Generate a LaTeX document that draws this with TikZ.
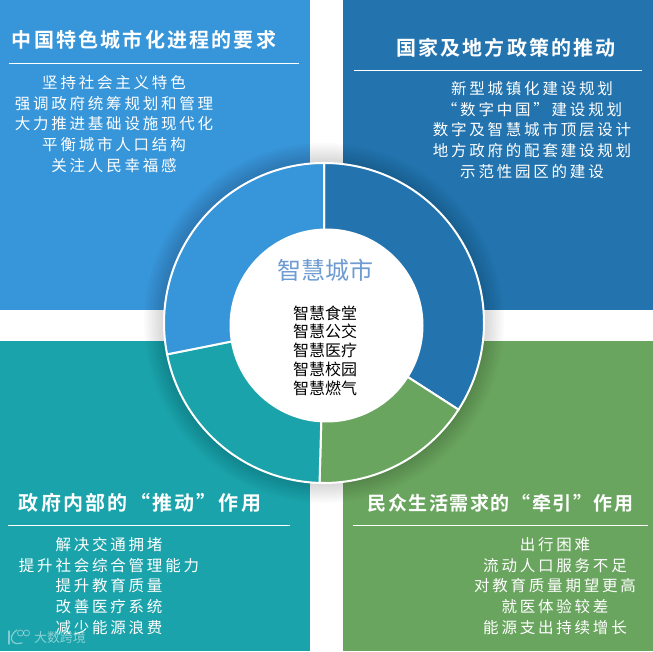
\documentclass[tikz,border=0pt]{standalone}
\usepackage{fontspec}
\setmainfont{Noto Sans CJK SC}
\newfontfamily\bodyfont[LetterSpace=18]{Noto Sans CJK SC}
\newfontfamily\titlefont[LetterSpace=11]{Noto Sans CJK SC Bold}
\newfontfamily\tighttitlefont[LetterSpace=8]{Noto Sans CJK SC Bold}
\usepackage{xcolor}
\usetikzlibrary{positioning}
\definecolor{paneltl}{HTML}{3795D9}
\definecolor{paneltr}{HTML}{2273AE}
\definecolor{panelbl}{HTML}{1BA3AB}
\definecolor{panelbr}{HTML}{6AA55F}
\definecolor{hubblue}{HTML}{6E9BD2}

\begin{document}
\begin{tikzpicture}[
    x=1pt, y=1pt,
    node distance=3pt and 0pt,
    panel/.style={
      rectangle, anchor=south west, inner sep=0pt,
      minimum width=310pt, minimum height=309.5pt
    },
    heading/.style={
      text=white, inner sep=0pt,
      font=\titlefont\fontsize{20}{22}\selectfont
    },
    itemlist/.style={
      text=white, align=center, inner sep=0pt,
      font=\bodyfont\fontsize{15.5}{20.8}\selectfont
    },
    rulerline/.style={white, line width=0.8pt},
    segline/.style={draw=white, line width=2pt},
    hub/.style={
      circle, fill=white, inner sep=0pt, minimum size=194pt
    },
    logoline/.style={white, opacity=0.45, line width=1.3pt, line cap=round}
  ]

    \useasboundingbox (0,0) rectangle (653,651);

    \node[panel, fill=paneltl] (tlpanel) at (0,341) {};
    \node[panel, fill=paneltr] (trpanel) at (343,341) {};
    \node[panel, fill=panelbl] (blpanel) at (0,0) {};
    \node[panel, fill=panelbr] (brpanel) at (343,0) {};

    % soft shadow of the ring
    \foreach \r in {162,164,...,180}
      \fill[black, opacity=0.014] (324,328) circle[radius=\r];

    \coordinate (ctr) at (324,328);
    \foreach \a/\b/\col in {90/-32.8/paneltr, -32.8/-91.6/panelbr,
                            -91.6/-168.7/panelbl, 191.3/90/paneltl}
      \filldraw[segline, fill=\col] (ctr) -- ++(\a:160)
        arc[start angle=\a, end angle=\b, radius=160] -- cycle;

    \node[hub] (core) at (326.5,325.5) {};
    \node[text=hubblue, inner sep=0pt, font=\fontsize{24}{26}\selectfont]
      (cityname) at (325,381) {智慧城市};
    \node[align=center, inner sep=0pt, font=\fontsize{16}{18.8}\selectfont,
      below=24pt of cityname] (apps)
      {智慧食堂\\智慧公交\\智慧医疗\\智慧校园\\智慧燃气};

    \node[heading] (tltitle) at (144,611) {中国特色城市化进程的要求};
    \draw[rulerline] (9,588) -- (299,588);
    \node[itemlist] (tllist) at (114,527)
      {坚持社会主义特色\\强调政府统筹规划和管理\\大力推进基础设施现代化\\平衡城市人口结构\\关注人民幸福感};

    \node[heading] (trtitle) at (506,603) {国家及地方政策的推动};
    \draw[rulerline] (354,580.5) -- (642,580.5);
    \node[itemlist] (trlist) at (532,521)
      {新型城镇化建设规划\\“数字中国”建设规划\\数字及智慧城市顶层设计\\地方政府的配套建设规划\\示范性园区的建设};

    \node[heading] (bltitle) at (140,148) {政府内部的“推动”作用};
    \draw[rulerline] (8,126) -- (290,126);
    \node[itemlist] (bllist) at (109,65)
      {解决交通拥堵\\提升社会综合管理能力\\提升教育质量\\改善医疗系统\\减少能源浪费};

    \node[heading, font=\tighttitlefont\fontsize{19}{21}\selectfont] (brtitle) at (500.5,148)
      {民众生活需求的“牵引”作用};
    \draw[rulerline] (353,126) -- (648,126);
    \node[itemlist] (brlist) at (555,65)
      {出行困难\\流动人口服务不足\\对教育质量期望更高\\就医体验较差\\能源支出持续增长};

    \node[text=white, opacity=0.5, inner sep=0pt, font=\fontsize{13}{15}\selectfont]
      (mark) at (60,13) {大数跨境};
    \draw[logoline] (9,20) -- (9,7);
    \draw[logoline] (17,21) .. controls (11,17) and (10,12) .. (13,9)
      .. controls (15,7) and (19,7) .. (22,8);
    \draw[logoline, line width=0.8pt] (20.5,18) circle[radius=3];
    \draw[logoline, line width=0.8pt] (26.5,18) circle[radius=3];
\end{tikzpicture}
\end{document}
